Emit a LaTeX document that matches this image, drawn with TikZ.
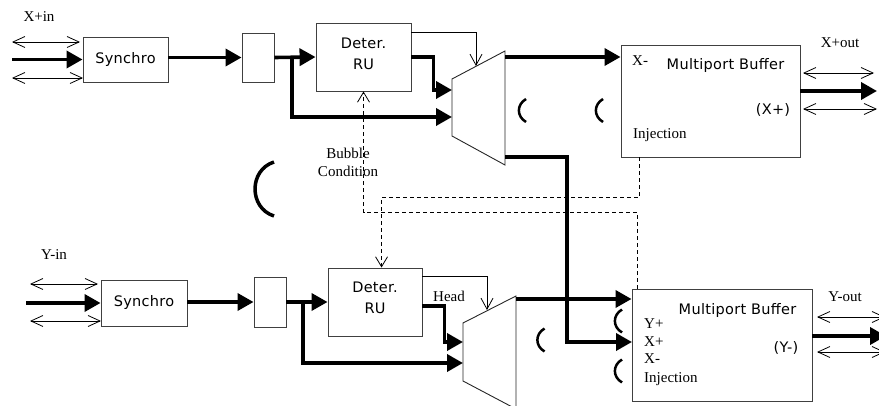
\documentclass[tikz,border=0pt]{standalone}
\usepackage{fontspec}
\setmainfont{Liberation Serif}
\newfontfamily\gsans[LetterSpace=2]{DejaVu Sans}
\usetikzlibrary{arrows.meta,calc}

\tikzset{
  box/.style={draw=black!75, line width=0.9pt, inner sep=0pt},
  boxtext/.style={font=\gsans\fontsize{14.5}{21}\selectfont, align=center, inner sep=0pt},
  bus/.style={line width=3.6pt, -{Triangle[length=16pt,width=17pt]}},
  ctl/.style={line width=0.8pt, -{Straight Barb[length=11pt,width=12pt,line width=0.8pt]}},
  dbl/.style={line width=0.8pt, {Straight Barb[length=12pt,width=11pt,line width=0.8pt]}-{Straight Barb[length=12pt,width=11pt,line width=0.8pt]}},
  dsh/.style={line width=0.8pt, dash pattern=on 4pt off 3pt, -{Straight Barb[length=10pt,width=12pt,line width=0.8pt]}},
  muxline/.style={line width=0.9pt, draw=black!85},
  lbl/.style={font=\fontsize{15}{18}\selectfont, inner sep=0pt},
  slbl/.style={font=\gsans\fontsize{14.5}{17}\selectfont, inner sep=0pt},
  parenline/.style={line width=2.5pt},
  pics/lbrk/.style={code={\draw[parenline] (3.5,-11.5) .. controls (-6,-6) and (-6,6) .. (3.5,11.5);}},
}

\begin{document}
\begin{tikzpicture}[x=1pt,y=-1pt]
\clip (0,0) rectangle (879,406);

% ---------- upper lane (X) ----------
\node[box, minimum width=85pt, minimum height=45pt] (syncA) at (125.5,59.5) {};
\node[boxtext] (syncAt) at (syncA) {Synchro};
\node[box, minimum width=32pt, minimum height=49pt] (regA) at (258,57.5) {};
\node[box, minimum width=95pt, minimum height=68pt] (detA) at (363.5,57) {};
\node[boxtext] (detAt) at (363.5,53.5) {Deter.\\RU};
\node[box, minimum width=179pt, minimum height=112pt] (mbA) at (710.5,101) {};

% multiplexer
\coordinate (mAtl) at (452,79);
\coordinate (mAtr) at (505,51);
\coordinate (mAbr) at (505,165);
\coordinate (mAbl) at (452,136);
\draw[muxline] (mAtl) -- (mAtr) -- (mAbr) -- (mAbl) -- cycle;
\coordinate (mAi1) at (452,90);
\coordinate (mAi2) at (452,117);
\coordinate (mAo1) at (505,57);
\coordinate (mAo2) at (505,157);
\coordinate (tA) at (476,66);

% input side
\coordinate (inA) at (12,59.5);
\coordinate (dA1l) at (12,42);  \coordinate (dA1r) at (80,42);
\coordinate (dA2l) at (12,78);  \coordinate (dA2r) at (83,78);
\draw[dbl] (dA1l) -- (dA1r);
\draw[dbl] (dA2l) -- (dA2r);
\draw[bus] (inA) -- (syncA.west);
\draw[bus] (syncA.east |- regA.west) -- (regA.west);
\draw[bus] (regA.east) -- (detA.west);
\coordinate (brA) at (292,57.5);
\draw[bus] (brA) |- (mAi2);
\draw[bus] (detA.east) -- ++(22,0) |- (mAi1);
\draw[ctl] ($(detA.north east)+(0,10)$) -| (tA);
\draw[bus] (mAo1) -- (mAo1 -| mbA.west);

% output side
\coordinate (oA1l) at (803,73);  \coordinate (oA1r) at (874,73);
\coordinate (oA2l) at (803,109); \coordinate (oA2r) at (877,109);
\coordinate (oAt) at (877,91);
\draw[dbl] (oA1l) -- (oA1r);
\draw[dbl] (oA2l) -- (oA2r);
\draw[bus] ($(mbA.east)+(0,-10)$) -- (oAt);

% ---------- lower lane (Y) ----------
\node[box, minimum width=86pt, minimum height=46pt] (syncB) at (144,303) {};
\node[boxtext] (syncBt) at (syncB) {Synchro};
\node[box, minimum width=32pt, minimum height=50pt] (regB) at (270,302) {};
\node[box, minimum width=94pt, minimum height=68pt] (detB) at (375,302) {};
\node[boxtext] (detBt) at (375,297.5) {Deter.\\RU};
\node[box, minimum width=180pt, minimum height=112pt] (mbB) at (722,345) {};

% multiplexer
\coordinate (mBtl) at (463,323);
\coordinate (mBtr) at (516,296);
\coordinate (mBbr) at (516,409);
\coordinate (mBbl) at (463,381);
\draw[muxline] (mBtl) -- (mBtr) -- (mBbr) -- (mBbl) -- cycle;
\coordinate (mBi1) at (463,342);
\coordinate (mBi2) at (463,363);
\coordinate (mBo1) at (516,299);
\coordinate (tB) at (487,310);

% input side
\coordinate (inB) at (26,303);
\coordinate (dB1l) at (30,284);  \coordinate (dB1r) at (98,284);
\coordinate (dB2l) at (30,321);  \coordinate (dB2r) at (101,321);
\draw[dbl] (dB1l) -- (dB1r);
\draw[dbl] (dB2l) -- (dB2r);
\draw[bus] (inB) -- (syncB.west);
\draw[bus] (syncB.east |- regB.west) -- (regB.west);
\draw[bus] (regB.east) -- (detB.west);
\coordinate (brB) at (303,302);
\draw[bus] (brB) |- (mBi2);
\draw[bus] ($(detB.east)+(0,4)$) -- ++(22,0) |- (mBi1);
\draw[ctl] ($(detB.north east)+(0,9)$) -| (tB);
\draw[bus] (mBo1) -- (mBo1 -| mbB.west);

% output side
\coordinate (oB1l) at (817,317); \coordinate (oB1r) at (885,317);
\coordinate (oB2l) at (817,352); \coordinate (oB2r) at (885,352);
\coordinate (oBt) at (886,336);
\draw[dbl] (oB1l) -- (oB1r);
\draw[dbl] (oB2l) -- (oB2r);
\draw[bus] ($(mbB.east)+(0,-9)$) -- (oBt);

% cross link from the X multiplexer into the Y buffer
\coordinate (mbBi2) at (632,342);
\draw[bus] (mAo2) -- ++(62,0) |- (mbBi2);

% bubble condition signals
\draw[dsh] ($(mbA.south west)+(19,0)$) -- ++(0,40) -| ($(detB.north west)+(54,0)$);
\draw[dsh] ($(mbB.north west)+(6,0)$) -- ++(0,-76) -| (detA.south);

% ---------- labels ----------
\node[lbl] (xin) at (39,17) {X+in};
\node[lbl] (xout) at (840,43) {X+out};
\node[lbl] (yin) at (54,255) {Y-in};
\node[lbl] (yout) at (845,297) {Y-out};
\node[lbl, align=center] (bub) at (348,162) {Bubble\\Condition};
\node[lbl] (head) at (449,296) {Head};

\node[lbl, anchor=west] (mbAx) at (632,61) {X-};
\node[slbl] (mbAt) at (725.5,66) {Multiport Buffer};
\node[slbl] (mbAp) at (773,110) {(X+)};
\node[lbl, anchor=base west] (mbAi) at (633,139) {Injection};

\node[slbl] (mbBt) at (737.5,311) {Multiport Buffer};
\node[slbl] (mbBp) at (786,348) {(Y-)};
\node[lbl, anchor=base west] (mbBy) at (644,329) {Y+};
\node[lbl, anchor=base west] (mbBx) at (644,347) {X+};
\node[lbl, anchor=base west] (mbBm) at (644,363) {X-};
\node[lbl, anchor=base west] (mbBi) at (644,382) {Injection};

% ---------- bracket marks ----------
\pic at (522.5,110.5) {lbrk};
\pic at (599.5,110.5) {lbrk};
\pic at (541,340) {lbrk};
\pic at (618.5,321) {lbrk};
\pic at (618.5,371) {lbrk};
\draw[line width=3.5pt] (274,162) .. controls (248.7,170) and (248.7,208) .. (274,216);
\end{tikzpicture}
\end{document}
